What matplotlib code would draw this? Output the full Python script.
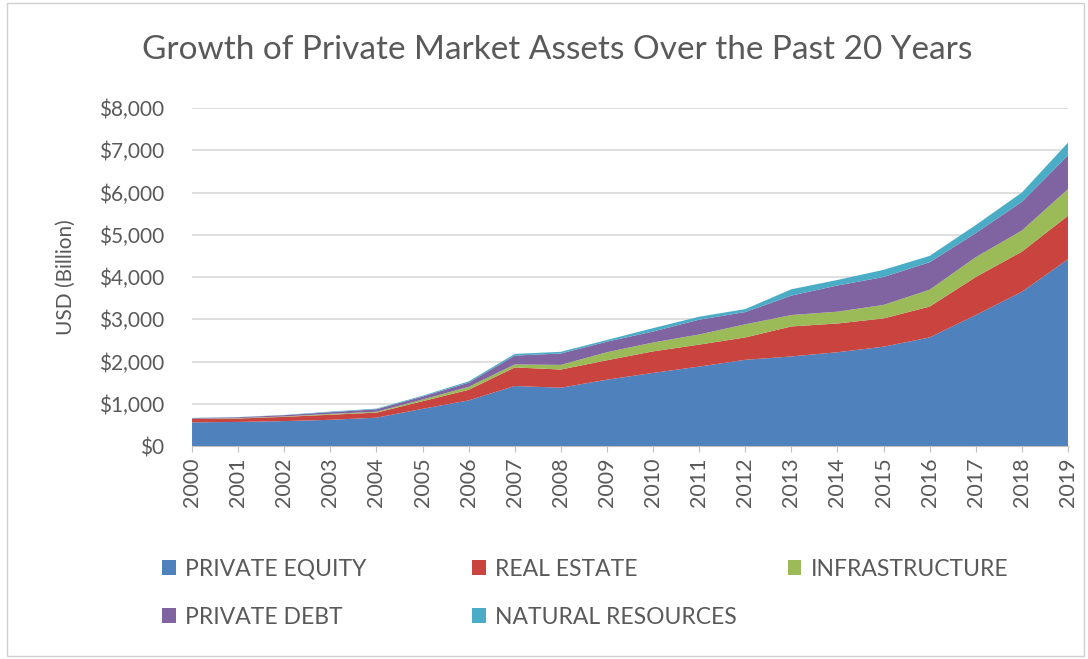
import matplotlib.pyplot as plt
from matplotlib.patches import Rectangle
from matplotlib.ticker import FuncFormatter

plt.rcParams['font.family'] = ['Lato', 'DejaVu Sans']

years = list(range(2000, 2020))
series_names = ['PRIVATE EQUITY', 'REAL ESTATE', 'INFRASTRUCTURE',
                'PRIVATE DEBT', 'NATURAL RESOURCES']
private_equity = [560, 570, 590, 620, 670, 880, 1080, 1420, 1380, 1570,
                  1730, 1880, 2040, 2120, 2220, 2350, 2570, 3100, 3650, 4420]
real_estate = [80, 80, 100, 120, 120, 180, 250, 440, 430, 460,
               510, 520, 530, 710, 680, 670, 730, 900, 950, 1030]
infrastructure = [5, 10, 10, 20, 20, 40, 70, 70, 110, 190,
                  210, 240, 310, 270, 280, 320, 400, 470, 500, 630]
private_debt = [15, 20, 30, 40, 60, 70, 100, 210, 270, 250,
                260, 350, 290, 460, 620, 660, 650, 570, 680, 800]
natural_resources = [5, 5, 5, 15, 15, 20, 30, 40, 40, 40,
                     80, 70, 70, 150, 130, 170, 150, 190, 220, 300]
colors = ['#4F81BD', '#C9433F', '#9BBB59', '#8064A2', '#4BACC6']
text_color = '#595959'

fig = plt.figure(figsize=(10.88, 6.59), dpi=100)
fig.patches.append(Rectangle((0.006, 0.004), 0.99, 0.992, transform=fig.transFigure,
                             fill=False, edgecolor='#D0D0D0', linewidth=1))
ax = fig.add_axes([0.1765, 0.3232, 0.8051, 0.5129])

polys = ax.stackplot(years, private_equity, real_estate, infrastructure,
                     private_debt, natural_resources, colors=colors,
                     labels=series_names)

ax.set_xlim(2000, 2019)
ax.set_ylim(0, 8000)
ax.set_yticks(range(0, 8001, 1000))
ax.yaxis.set_major_formatter(FuncFormatter(lambda v, p: '${:,.0f}'.format(v)))
ax.set_xticks(years)
ax.set_xticklabels([str(y) for y in years], rotation=90)
ax.grid(axis='y', color='#D9D9D9', linewidth=1.2)
ax.set_axisbelow(True)
for s in ['top', 'right', 'left']:
    ax.spines[s].set_visible(False)
ax.spines['bottom'].set_color('#BFBFBF')
ax.tick_params(axis='y', length=0, labelsize=15, labelcolor=text_color, pad=20)
ax.tick_params(axis='x', length=4, color='#BFBFBF', labelsize=15.5,
               labelcolor=text_color, pad=4)
ax.set_ylabel('USD (Billion)', fontsize=15, color=text_color, labelpad=17)

fig.text(0.512, 0.924, 'Growth of Private Market Assets Over the Past 20 Years',
         ha='center', va='center', fontsize=24, color=text_color)

# legend laid out row by row like Excel: one legend per column
leg_cols = [([0, 3], 0.149), ([1, 4], 0.434), ([2], 0.724)]
for idx, xpos in leg_cols:
    leg = fig.legend([polys[i] for i in idx], [series_names[i] for i in idx],
                     loc='upper left', bbox_to_anchor=(xpos, 0.152),
                     frameon=False, fontsize=16.5, labelcolor=text_color,
                     handlelength=0.6, handleheight=0.6, handletextpad=0.4,
                     labelspacing=1.17, borderpad=0, borderaxespad=0)

fig.savefig('out.png', dpi=100)
